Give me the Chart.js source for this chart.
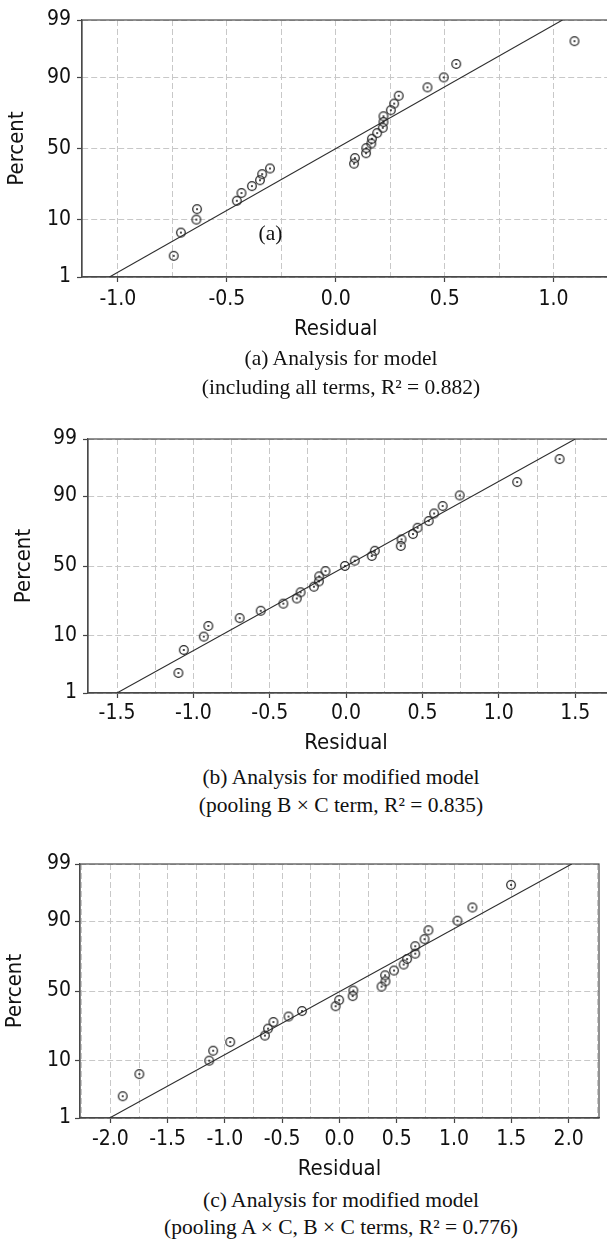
<!DOCTYPE html>
<html>
<head>
<meta charset="utf-8">
<script src="https://cdn.jsdelivr.net/npm/chart.js@4.4.1/dist/chart.umd.min.js"></script>
<style>
  html, body { margin: 0; padding: 0; background: #fff; }
  body { width: 607px; height: 1241px; overflow: hidden; position: relative; }
  canvas { position: absolute; left: 0; }
  .cap { position: absolute; left: 0; width: 682px; text-align: center; white-space: nowrap;
         font-family: "Liberation Serif", "Times New Roman", serif; font-size: 21.5px;
         line-height: 28px; color: #111; }
</style>
</head>
<body>
<canvas id="chartA" width="660" height="345" style="top:0px"></canvas>
<div class="cap" style="top:344px">(a) Analysis for model</div>
<div class="cap" style="top:373px">(including all terms, R² = 0.882)</div>

<canvas id="chartB" width="660" height="340" style="top:420px"></canvas>
<div class="cap" style="top:763px">(b) Analysis for modified model</div>
<div class="cap" style="top:791px">(pooling B × C term, R² = 0.835)</div>

<canvas id="chartC" width="607" height="340" style="top:845px"></canvas>
<div class="cap" style="top:1186px">(c) Analysis for modified model</div>
<div class="cap" style="top:1213px">(pooling A × C, B × C terms, R² = 0.776)</div>

<script>
// probability axis ticks (percent)
const yTickPercents = [1, 10, 50, 90, 99];

// (a) all terms
const residualsA = [-0.744, -0.711, -0.640, -0.637, -0.454, -0.433, -0.385, -0.348, -0.338, -0.302,
                    0.084, 0.088, 0.139, 0.140, 0.163, 0.166, 0.190, 0.216, 0.219, 0.219,
                    0.253, 0.268, 0.289, 0.421, 0.496, 0.553, 1.096];
const percentsA = [2.6, 6.4, 9.9, 13.6, 17.2, 21.0, 24.8, 28.3, 32.1, 35.9,
                   39.2, 43.1, 46.6, 50.3, 53.6, 57.0, 61.0, 64.6, 68.4, 72.0,
                   75.6, 79.2, 83.0, 86.6, 90.1, 93.7, 97.4];
const xLabelsA = [-1.0, -0.5, 0.0, 0.5, 1.0];
const fitA = [0.001, 0.447];   // mean, sigma of the fitted line

// (b) pooling B x C
const residualsB = [-1.098, -1.063, -0.932, -0.902, -0.697, -0.559, -0.411, -0.323, -0.298, -0.211,
                    -0.178, -0.176, -0.135, -0.008, 0.057, 0.168, 0.188, 0.358, 0.363, 0.438,
                    0.468, 0.541, 0.576, 0.632, 0.744, 1.120, 1.398];
const percentsB = [2.5, 6.2, 9.8, 13.6, 17.0, 20.6, 24.5, 27.6, 31.5, 35.2,
                   38.9, 42.5, 46.3, 50.0, 53.9, 57.3, 61.0, 64.3, 68.7, 72.1,
                   75.8, 79.5, 83.2, 86.4, 90.2, 93.8, 97.5];
const xLabelsB = [-1.5, -1.0, -0.5, 0.0, 0.5, 1.0, 1.5];
const fitB = [0.0, 0.645];

// (c) pooling A x C, B x C
const residualsC = [-1.892, -1.747, -1.137, -1.103, -0.954, -0.651, -0.624, -0.577, -0.445, -0.327,
                    -0.034, -0.003, 0.115, 0.121, 0.367, 0.401, 0.398, 0.476, 0.560, 0.590,
                    0.661, 0.661, 0.742, 0.776, 1.029, 1.160, 1.497];
const percentsC = [2.7, 6.4, 10.1, 13.7, 17.5, 20.7, 24.5, 28.5, 32.0, 35.7,
                   39.0, 43.4, 46.3, 50.3, 53.2, 57.0, 61.3, 64.6, 68.6, 72.1,
                   75.3, 79.4, 82.9, 86.7, 90.1, 93.7, 97.4];
const xLabelsC = [-2.0, -1.5, -1.0, -0.5, 0.0, 0.5, 1.0, 1.5, 2.0];
const fitC = [0.01, 0.867];

const gridStep = 0.25;
const sansFont = '"DejaVu Sans Condensed", "DejaVu Sans", sans-serif';
const serifFont = '"Liberation Serif", "Times New Roman", serif';
const textColor = '#111';
const frameColor = '#4a4a4a';
const gridColor = '#c8c8c8';

// inverse normal cdf (Acklam), turns percent into the probability-paper position
function probit(p) {
  const a = [-39.69683028665376, 220.9460984245205, -275.9285104469687, 138.3577518672690, -30.66479806614716, 2.506628277459239];
  const b = [-54.47609879822406, 161.5858368580409, -155.6989798598866, 66.80131188771972, -13.28068155288572];
  const c = [-0.007784894002430293, -0.3223964580411365, -2.400758277161838, -2.549732539343734, 4.374664141464968, 2.938163982698783];
  const d = [0.007784695709041462, 0.3224671290700398, 2.445134137142996, 3.754408661907416];
  const lo = 0.02425;
  let q, r;
  if (p < lo) {
    q = Math.sqrt(-2 * Math.log(p));
    return (((((c[0]*q+c[1])*q+c[2])*q+c[3])*q+c[4])*q+c[5]) / ((((d[0]*q+d[1])*q+d[2])*q+d[3])*q+1);
  }
  if (p > 1 - lo) {
    q = Math.sqrt(-2 * Math.log(1 - p));
    return -(((((c[0]*q+c[1])*q+c[2])*q+c[3])*q+c[4])*q+c[5]) / ((((d[0]*q+d[1])*q+d[2])*q+d[3])*q+1);
  }
  q = p - 0.5; r = q * q;
  return (((((a[0]*r+a[1])*r+a[2])*r+a[3])*r+a[4])*r+a[5])*q / (((((b[0]*r+b[1])*r+b[2])*r+b[3])*r+b[4])*r+1);
}
const zOf = pct => probit(pct / 100);

// open circle with a centre dot, like the Minitab marker
function ringDot() {
  const c = document.createElement('canvas');
  c.width = 12; c.height = 12;
  const g = c.getContext('2d');
  g.strokeStyle = '#262626'; g.lineWidth = 1.25;
  g.beginPath(); g.arc(6, 6, 4.3, 0, Math.PI * 2); g.stroke();
  g.fillStyle = '#111';
  g.beginPath(); g.arc(6, 6, 1, 0, Math.PI * 2); g.fill();
  return c;
}
const marker = ringDot();

const framePlugin = {
  id: 'frame',
  beforeDatasetsDraw(chart) {
    const { ctx, chartArea: a } = chart;
    ctx.save();
    ctx.strokeStyle = frameColor;
    ctx.lineWidth = 1.2;
    ctx.strokeRect(a.left, a.top, a.width, a.height);
    ctx.restore();
  }
};

// "Residual" sits under x = 0, plus the optional panel tag
const notesPlugin = {
  id: 'notes',
  afterDraw(chart, args, o) {
    const { ctx, scales: { x, y } } = chart;
    ctx.save();
    ctx.fillStyle = textColor;
    ctx.textAlign = 'center';
    ctx.textBaseline = 'middle';
    ctx.font = '22px ' + sansFont;
    ctx.fillText('Residual', x.getPixelForValue(0), o.titleY);
    if (o.tag) {
      ctx.font = '21.5px ' + serifFont;
      ctx.fillText(o.tag, x.getPixelForValue(o.tagX), y.getPixelForValue(zOf(o.tagP)));
    }
    ctx.restore();
  }
};

function makeChart(id, p) {
  const zLo = zOf(yTickPercents[0]);
  const zHi = zOf(yTickPercents[yTickPercents.length - 1]);
  const points = p.residuals.map((r, i) => ({ x: r, y: zOf(p.percents[i]) }));
  const fitLine = [zLo, zHi].map(z => ({ x: p.fit[0] + p.fit[1] * z, y: z }));
  const labelled = v => p.xLabels.some(l => Math.abs(l - v) < 1e-6);

  return new Chart(document.getElementById(id), {
    type: 'scatter',
    data: {
      datasets: [
        { data: fitLine, showLine: true, borderColor: '#2e2e2e', borderWidth: 1.1,
          pointRadius: 0, order: 2 },
        { data: points, pointStyle: marker, pointRadius: 5, order: 1 }
      ]
    },
    options: {
      responsive: false,
      animation: false,
      devicePixelRatio: 1,
      layout: { padding: { top: p.padTop, right: p.padRight, bottom: 0, left: 0 } },
      plugins: {
        legend: { display: false },
        tooltip: { enabled: false },
        notes: { titleY: p.titleY, tag: p.tag, tagX: p.tagX, tagP: p.tagP }
      },
      scales: {
        x: {
          type: 'linear', min: p.xMin, max: p.xMax,
          afterBuildTicks: s => {
            const t = [];
            for (let v = Math.ceil(p.xMin / gridStep) * gridStep; v <= p.xMax + 1e-9; v += gridStep) {
              t.push({ value: +v.toFixed(2) });
            }
            s.ticks = t;
          },
          afterFit: s => { s.height = p.axisH; },
          grid: {
            color: gridColor, lineWidth: 1, tickLength: 5, tickWidth: 1.2,
            tickColor: c => (c.tick && labelled(c.tick.value)) ? '#444' : 'rgba(0,0,0,0)',
            tickBorderDash: []
          },
          border: { color: frameColor, width: 1.2, dash: [6, 3] },
          ticks: {
            autoSkip: false, maxRotation: 0, padding: p.xPad, color: textColor,
            font: { family: sansFont, size: 21 },
            callback: v => labelled(v) ? v.toFixed(1) : ''
          }
        },
        y: {
          type: 'linear', min: zLo, max: zHi,
          afterBuildTicks: s => { s.ticks = yTickPercents.map(v => ({ value: zOf(v) })); },
          afterFit: s => { s.width = p.axisW; },
          grid: { color: gridColor, lineWidth: 1, tickLength: 5, tickWidth: 1.2, tickColor: '#444', tickBorderDash: [] },
          border: { color: frameColor, width: 1.2, dash: [6, 3] },
          ticks: {
            autoSkip: false, padding: p.yPad, color: textColor,
            font: { family: sansFont, size: 21 },
            callback: (v, i) => String(yTickPercents[i])
          },
          title: {
            display: true, text: 'Percent', color: textColor,
            font: { family: sansFont, size: 22 },
            padding: { top: p.yTitlePad, bottom: 0 }
          }
        }
      }
    },
    plugins: [framePlugin, notesPlugin]
  });
}

makeChart('chartA', {
  residuals: residualsA, percents: percentsA, xLabels: xLabelsA, fit: fitA,
  xMin: -1.165, xMax: 1.461, padTop: 20, padRight: 0, axisW: 82, axisH: 68,
  xPad: 5, yPad: 6, yTitlePad: 4, titleY: 329, tag: '(a)', tagX: -0.30, tagP: 6
});
makeChart('chartB', {
  residuals: residualsB, percents: percentsB, xLabels: xLabelsB, fit: fitB,
  xMin: -1.690, xMax: 2.016, padTop: 19, padRight: 0, axisW: 88, axisH: 67,
  xPad: 3, yPad: 6, yTitlePad: 11, titleY: 323
});
makeChart('chartC', {
  residuals: residualsC, percents: percentsC, xLabels: xLabelsC, fit: fitC,
  xMin: -2.265, xMax: 2.265, padTop: 19, padRight: 8, axisW: 80, axisH: 67,
  xPad: 4, yPad: 4, yTitlePad: 2, titleY: 324
});
</script>
</body>
</html>
